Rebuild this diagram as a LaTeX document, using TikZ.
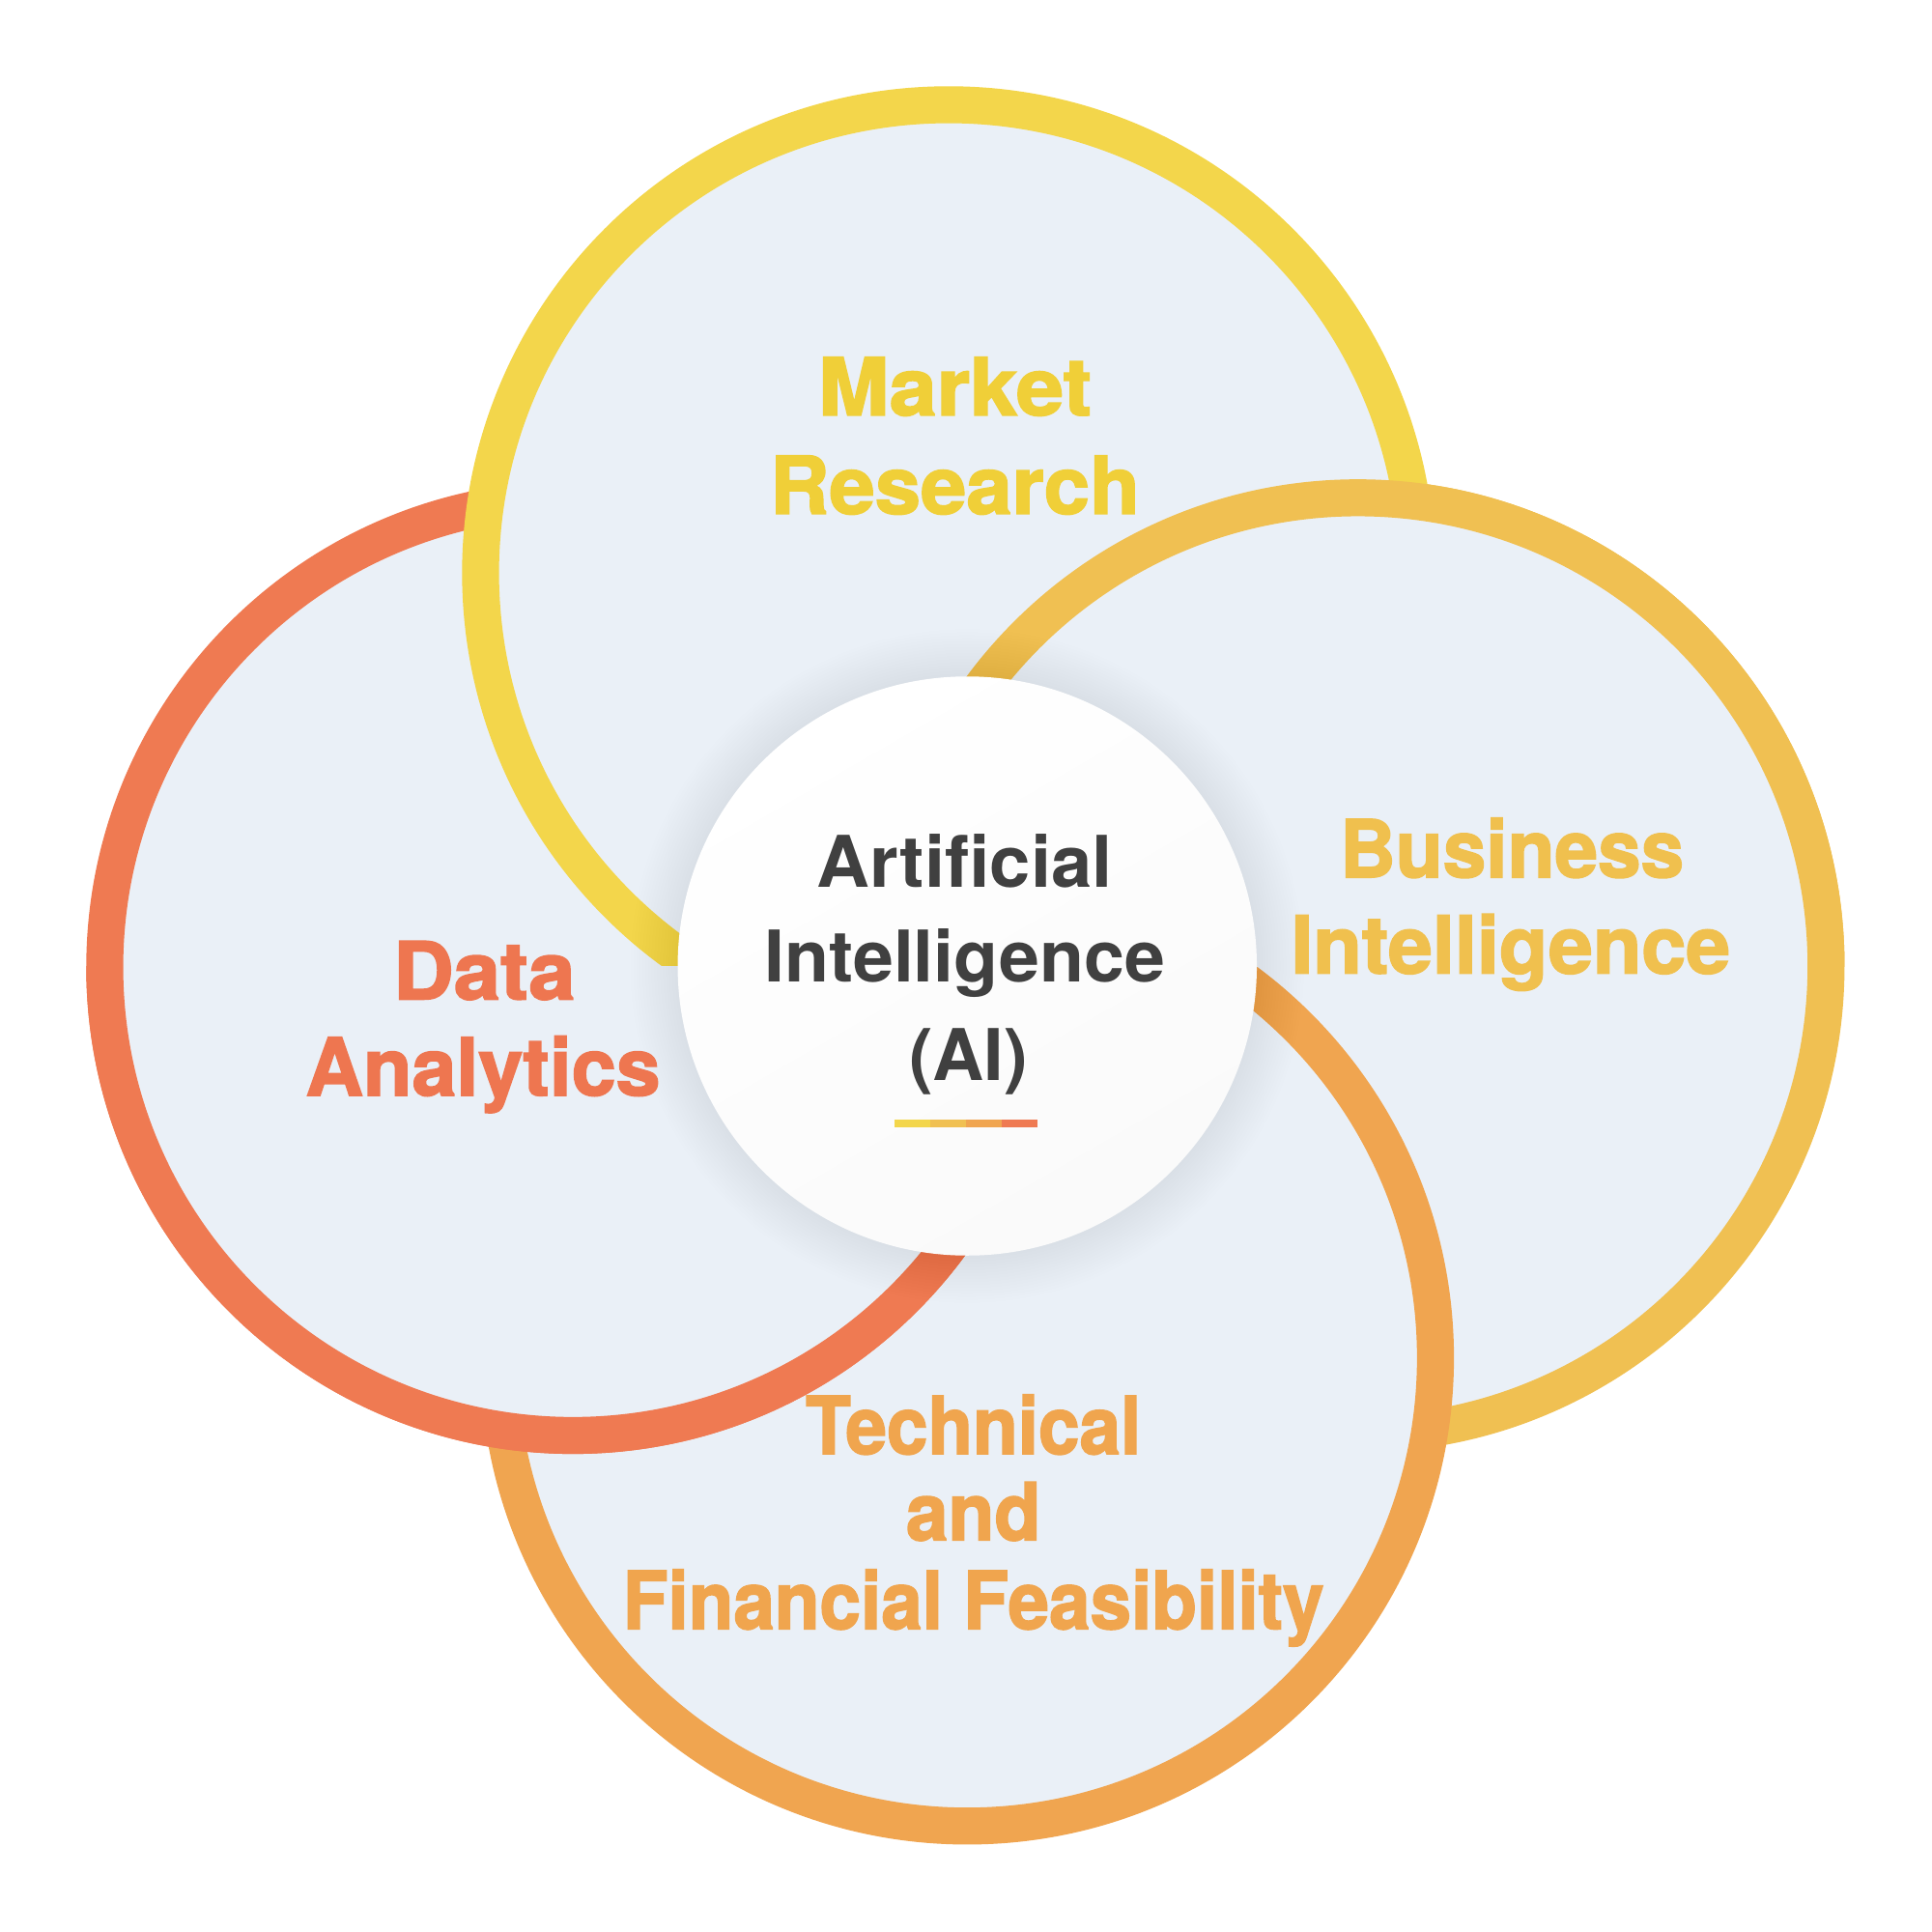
\documentclass[tikz,border=0pt]{standalone}
\usepackage{fontspec}
\usepackage{graphicx}
\newfontfamily\lblfont{texgyreheros-bold.otf}[FakeBold=2]
\newfontfamily\ctrfont{texgyreheros-bold.otf}
\definecolor{bgfill}{HTML}{EAF0F7}
\definecolor{cyel}{HTML}{F3D64B}
\definecolor{cgold}{HTML}{F0C052}
\definecolor{corange}{HTML}{F0A550}
\definecolor{cred}{HTML}{EF7A52}
\definecolor{tyel}{HTML}{F0CF38}
\definecolor{tgold}{HTML}{F0C04E}
\definecolor{torange}{HTML}{F0A54E}
\definecolor{tred}{HTML}{EE7650}
\definecolor{tdark}{HTML}{404040}
\newcommand{\sx}[2]{\scalebox{#1}[1]{#2}}
\tikzset{
  ring/.style={fill=bgfill, draw=#1, line width=0.3827cm},
  lbl/.style={font=\lblfont\fontsize{23.5}{28}\selectfont, text=#1, anchor=base, inner sep=0pt},
  ctr/.style={font=\ctrfont\fontsize{21}{26}\selectfont, text=tdark, anchor=base, inner sep=0pt},
  barseg/.style={fill=#1, draw=none}
}
\begin{document}
\begin{tikzpicture}[x=0.012755cm, y=-0.012755cm]
\useasboundingbox (0,0) rectangle (1568,1568);
\fill[white] (0,0) rectangle (1568,1568);
\coordinate (cy) at (770,465);
\coordinate (cr) at (465,785);
\coordinate (cg) at (1102,784);
\coordinate (co) at (785,1102);
\coordinate (cc) at (785,784);
% pinwheel circles
\filldraw[ring=cgold] (cg) circle (380);
\filldraw[ring=corange] (co) circle (380);
\filldraw[ring=cred] (cr) circle (380);
\filldraw[ring=cyel] (cy) circle (380);
\begin{scope}
  \clip (0,0) rectangle (1568,784);
  \filldraw[ring=cgold] (cg) circle (380);
\end{scope}
\begin{scope}
  \clip (0,784) rectangle (1568,1568);
  \filldraw[ring=cred] (cr) circle (380);
\end{scope}
% shadow
\foreach \i in {1,...,16} {
  \fill[black, opacity=0.0055] (cc) circle (235+2.4*\i);
}
% centre circle
\shade[top color=white, bottom color=white!96!gray, shading angle=30] (cc) circle (235);
\node[circle, minimum size=0pt, inner sep=0pt] (center) at (cc) {};
% labels
\node[lbl=tyel] (mr1) at (775,337) {\sx{1.07}{Market}};
\node[lbl=tyel] (mr2) at (775,417) {\sx{1.03}{Research}};
\node[lbl=tgold] (bi1) at (1227,712) {\sx{0.97}{Business}};
\node[lbl=tgold] (bi2) at (1226,790) {Intelligence};
\node[lbl=tred] (da1) at (393,811) {\sx{1.05}{Data}};
\node[lbl=tred] (da2) at (392,889) {Analytics};
\node[lbl=torange] (tf1) at (790,1180) {\sx{0.925}{Technical}};
\node[lbl=torange] (tf2) at (790,1250) {\sx{0.95}{and}};
\node[lbl=torange] (tf3) at (790,1322) {\sx{0.925}{Financial Feasibility}};
\node[ctr] (ai1) at (783,720) {\sx{1.03}{Artificial}};
\node[ctr] (ai2) at (783,797) {\sx{1.02}{Intelligence}};
\node[ctr] (ai3) at (786,877) {(AI)};
% underline bar
\fill[barseg=cyel] (726,909) rectangle (755,915);
\fill[barseg=cgold] (755,909) rectangle (784,915);
\fill[barseg=corange] (784,909) rectangle (813,915);
\fill[barseg=cred] (813,909) rectangle (842,915);
\end{tikzpicture}
\end{document}
